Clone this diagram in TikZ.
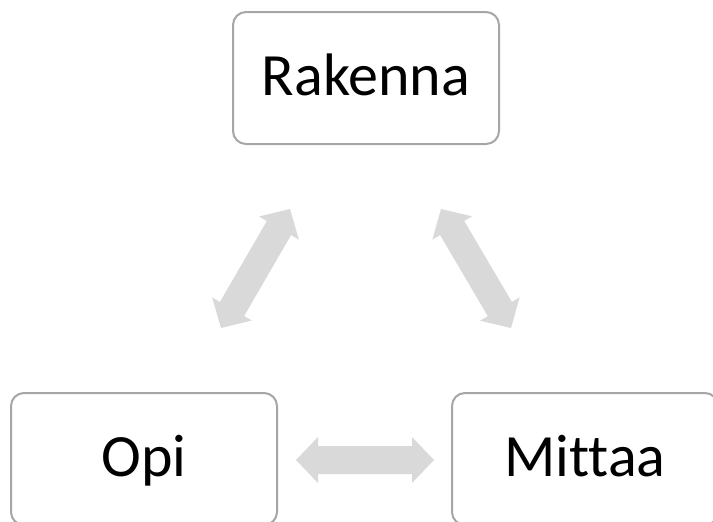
\documentclass[tikz,border=0pt]{standalone}
\usepackage{fontspec}
\setmainfont[Ligatures={NoCommon,NoRare,NoContextual}]{Carlito}
\usetikzlibrary{calc}
\definecolor{boxline}{HTML}{A6A6A6}
\definecolor{arrowgray}{HTML}{D9D9D9}
\tikzset{
  stagebox/.style={draw=boxline, line width=2pt, rounded corners=13pt,
    minimum width=266pt, minimum height=132pt, inner sep=0pt,
    text height=34pt, text depth=0pt, font=\fontsize{60}{72}\selectfont},
  arrowfill/.style={fill=arrowgray}
}
\newcommand\dblblockarrow[2]{%
  \fill[arrowfill] (#1)
    -- ($(#1)!22pt!(#2)!23pt!90:(#2)$)
    -- ($(#1)!22pt!(#2)!14pt!90:(#2)$)
    -- ($(#2)!22pt!(#1)!14pt!-90:(#1)$)
    -- ($(#2)!22pt!(#1)!23pt!-90:(#1)$)
    -- (#2)
    -- ($(#2)!22pt!(#1)!23pt!90:(#1)$)
    -- ($(#2)!22pt!(#1)!14pt!90:(#1)$)
    -- ($(#1)!22pt!(#2)!14pt!-90:(#2)$)
    -- ($(#1)!22pt!(#2)!23pt!-90:(#2)$)
    -- cycle;}
\begin{document}
\begin{tikzpicture}[x=1pt,y=-1pt]
\useasboundingbox (0,0) rectangle (713,522);
\clip (0,0) rectangle (713,522);
\node[stagebox] (rak) at (366,78) {Rakenna};
\node[stagebox] (opi) at (144,459) {Opi};
\node[stagebox] (mit) at (585,459) {Mit{}taa};
\coordinate (a1) at (221,328);
\coordinate (a2) at (290,209);
\coordinate (b1) at (441,209);
\coordinate (b2) at (511,328);
\coordinate (c1) at (296,460);
\coordinate (c2) at (434,460);
\dblblockarrow{a1}{a2}
\dblblockarrow{b1}{b2}
\dblblockarrow{c1}{c2}
\end{tikzpicture}
\end{document}
